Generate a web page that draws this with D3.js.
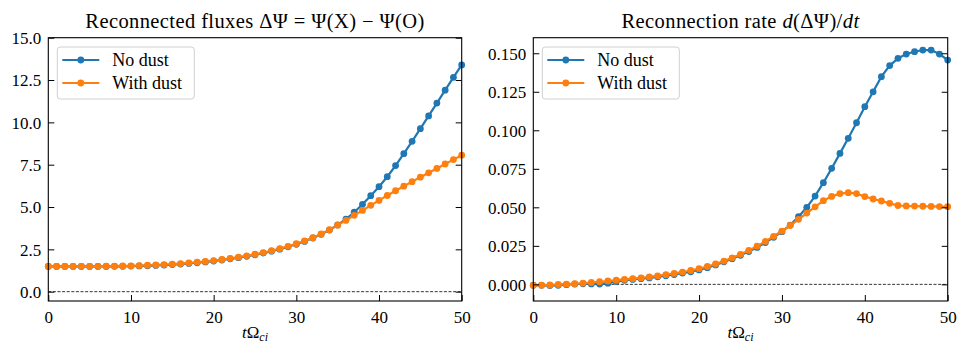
<!DOCTYPE html>
<html><head><meta charset="utf-8">
<script src="https://cdn.jsdelivr.net/npm/d3@7"></script>
<style>
html,body{margin:0;padding:0;background:#fff;}
</style></head>
<body><svg id="chart" width="968" height="356"></svg>
<script>
const times = d3.range(0, 51);
const fluxNoDust = [1.49,1.49,1.49,1.49,1.49,1.49,1.49,1.49,1.50,1.50,
  1.51,1.52,1.53,1.55,1.57,1.60,1.63,1.67,1.71,1.76,
  1.81,1.87,1.94,2.01,2.09,2.18,2.28,2.39,2.51,2.65,
  2.80,2.97,3.17,3.39,3.64,3.94,4.29,4.69,5.16,5.67,
  6.20,6.79,7.45,8.15,8.88,9.63,10.38,11.14,11.90,12.66,13.39];
const fluxWithDust = [1.50,1.50,1.50,1.50,1.50,1.50,1.50,1.51,1.51,1.52,
  1.53,1.54,1.56,1.58,1.60,1.63,1.66,1.70,1.74,1.79,
  1.84,1.90,1.97,2.04,2.12,2.21,2.31,2.42,2.54,2.68,
  2.83,3.00,3.19,3.41,3.66,3.93,4.21,4.51,4.80,5.10,
  5.39,5.68,5.96,6.23,6.50,6.76,7.02,7.28,7.54,7.80,8.06];
const rateNoDust = [-0.0005,-0.0006,-0.0008,-0.0006,-0.0002,0.0002,0.0004,0.0003,0.0002,0.0008,
  0.0018,0.0026,0.0032,0.0037,0.0042,0.0049,0.0056,0.0064,0.0073,0.0082,
  0.0094,0.0108,0.0126,0.0146,0.0167,0.0189,0.0213,0.0240,0.0271,0.0305,
  0.0342,0.0385,0.0439,0.0500,0.0573,0.0660,0.0753,0.0850,0.0948,0.1049,
  0.1153,0.1250,0.1348,0.1420,0.1467,0.1495,0.1510,0.1521,0.1521,0.1495,0.1456];
const rateWithDust = [-0.0006,-0.0005,-0.0004,-0.0001,0.0001,0.0004,0.0008,0.0012,0.0017,0.0022,
  0.0027,0.0032,0.0037,0.0042,0.0048,0.0055,0.0063,0.0071,0.0080,0.0090,
  0.0102,0.0116,0.0132,0.0151,0.0172,0.0195,0.0220,0.0248,0.0279,0.0312,
  0.0346,0.0382,0.0422,0.0463,0.0503,0.0543,0.0571,0.0589,0.0595,0.0589,
  0.0570,0.0554,0.0541,0.0526,0.0512,0.0509,0.0508,0.0507,0.0506,0.0505,0.0504];
const xTicks = [0,10,20,30,40,50];
const fluxTicks = [0,2.5,5,7.5,10,12.5,15];
const rateTicks = [0,0.025,0.05,0.075,0.1,0.125,0.15];
const seriesNames = ["No dust","With dust"];
const colors = ["#1f77b4","#ff7f0e"];

const FONT = '"Liberation Serif", "Times New Roman", serif';
const svg = d3.select("#chart").style("font-family", FONT);
const plotTop = 37.7, plotBottom = 301;

function panel(opts){
  const x = d3.scaleLinear().domain([0,50]).range([opts.left, opts.right]);
  const y = d3.scaleLinear().domain(opts.ydom).range([plotBottom, plotTop]);
  const g = svg.append("g");
  g.append("line").attr("x1",opts.left).attr("x2",opts.right)
    .attr("y1",y(0)).attr("y2",y(0))
    .attr("stroke","#000").attr("stroke-width",0.8).attr("stroke-dasharray","3,1.6");
  const line = d3.line().x((d,i)=>x(times[i])).y(d=>y(d));
  opts.series.forEach((s,k)=>{
    g.append("path").datum(s).attr("d",line).attr("fill","none")
      .attr("stroke",colors[k]).attr("stroke-width",2.2);
    g.selectAll(null).data(s).enter().append("circle")
      .attr("cx",(d,i)=>x(times[i])).attr("cy",d=>y(d)).attr("r",3.4)
      .attr("fill",colors[k]);
  });
  const ax = d3.axisBottom(x).tickValues(xTicks).tickSize(-6).tickPadding(10).tickFormat(d3.format("d"));
  const ay = d3.axisLeft(y).tickValues(opts.yticks).tickSize(-6).tickPadding(7).tickFormat(opts.fmt);
  const ayr = d3.axisRight(y).tickValues(opts.yticks).tickSize(-6).tickFormat("");
  const gx = g.append("g").attr("transform",`translate(0,${plotBottom})`).call(ax);
  const gy = g.append("g").attr("transform",`translate(${opts.left},0)`).call(ay);
  const gyr = g.append("g").attr("transform",`translate(${opts.right},0)`).call(ayr);
  [gx,gy,gyr].forEach(a=>{
    a.attr("font-family",null).attr("font-size",null);
    a.select(".domain").remove();
    a.selectAll(".tick line").attr("stroke","#000").attr("stroke-width",1);
    a.selectAll(".tick text").style("font-family",FONT).style("font-size","17px").attr("fill","#000");
  });
  gy.selectAll(".tick text").attr("dy","0.34em");
  g.append("rect").attr("x",opts.left).attr("y",plotTop)
    .attr("width",opts.right-opts.left).attr("height",plotBottom-plotTop)
    .attr("fill","none").attr("stroke","#000").attr("stroke-width",1.1);
  const cx = (opts.left+opts.right)/2;
  const t = g.append("text").attr("x",cx).attr("y",28).attr("text-anchor","middle")
    .style("font-family",FONT).style("font-size","20.5px").style("letter-spacing","0.4px");
  opts.title(t);
  const xl = g.append("text").attr("x",cx).attr("y",338).attr("text-anchor","middle")
    .style("font-family",FONT).style("font-size","17px");
  xl.append("tspan").attr("font-style","italic").text("t");
  xl.append("tspan").text("Ω");
  xl.append("tspan").attr("font-style","italic").attr("font-size","12px").attr("dy","3").text("ci");
  const lx = opts.left + 9, ly = 47;
  g.append("rect").attr("x",lx).attr("y",ly).attr("width",137).attr("height",52)
    .attr("rx",3).attr("fill","#fff").attr("fill-opacity",0.8).attr("stroke","#d0d0d0").attr("stroke-width",1);
  seriesNames.forEach((n,k)=>{
    const yy = ly + 13 + k*23;
    g.append("line").attr("x1",lx+5).attr("x2",lx+42).attr("y1",yy).attr("y2",yy)
      .attr("stroke",colors[k]).attr("stroke-width",2.2);
    g.append("circle").attr("cx",lx+23.5).attr("cy",yy).attr("r",3.4).attr("fill",colors[k]);
    g.append("text").attr("x",lx+55).attr("y",yy).attr("dy","0.33em")
      .style("font-family",FONT).style("font-size","18px").text(n);
  });
}

panel({left:48.3, right:461.7, ydom:[-0.55,15.0], yticks:fluxTicks, fmt:d3.format(".1f"),
  series:[fluxNoDust, fluxWithDust],
  title:t=>{
    t.append("tspan").text("Reconnected fluxes ΔΨ = Ψ(X) − Ψ(O)");
  }});
panel({left:533.3, right:947.7, ydom:[-0.0108,0.1601], yticks:rateTicks, fmt:d3.format(".3f"),
  series:[rateNoDust, rateWithDust],
  title:t=>{
    t.append("tspan").text("Reconnection rate ");
    t.append("tspan").attr("font-style","italic").text("d");
    t.append("tspan").text("(ΔΨ)/");
    t.append("tspan").attr("font-style","italic").text("dt");
  }});
</script></body></html>
